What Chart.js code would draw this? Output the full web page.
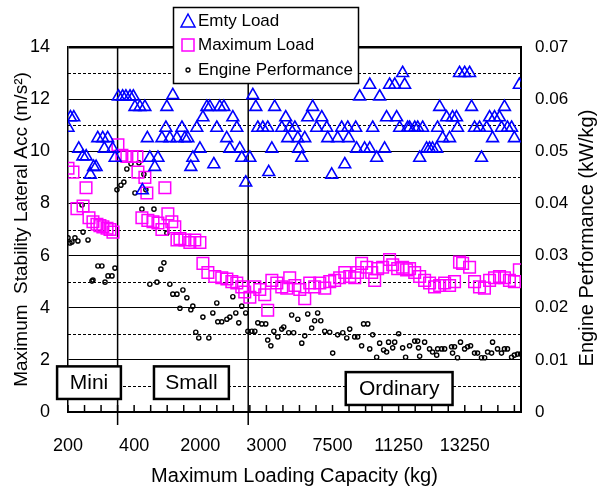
<!DOCTYPE html>
<html>
<head>
<meta charset="utf-8">
<script src="https://cdn.jsdelivr.net/npm/chart.js@4.4.0/dist/chart.umd.min.js"></script>
<style>
  body { margin: 0; background: #fff; }
  #wrap { width: 605px; height: 488px; }
</style>
</head>
<body>
<div id="wrap"><canvas id="chart"></canvas></div>
<script>
// x = sample index (10 per tick mark), tick labels every 40 samples
const capacityLabels = ['200', '400', '2000', '3000', '7500', '11250', '13250'];
const classDividers = [30, 109];
const classNames = ['Mini', 'Small', 'Ordinary'];

// [sample, m/s^2]
const emtyLoad = [
  [0,10.9],[1.5,11.3],[3.5,11.3],[6.5,10.1],[9,9.8],[11,9.8],[13.5,9.1],[15.5,9.4],[17,9.4],[18,10.5],
  [21,10.5],[22,10.1],[24,10.5],[27,10.1],[28.5,9.75],[30.5,12.1],[33,12.1],[35,12.1],[37.5,12.1],[39.5,12.1],
  [40.5,11.7],[43.5,11.7],[45,8.5],[46.5,11.7],[48,10.5],[49.5,9.75],[52.5,9.4],[54.4,9.75],[56.8,10.5],[59.2,10.9],
  [59.8,11.7],[61.6,10.5],[63.4,12.15],[65.9,10.5],[68.9,10.9],[70.7,10.5],[72.5,10.5],[74.3,9.4],[75.5,9.75],[77.9,10.9],
  [79.8,10.1],[81.6,11.3],[84,11.7],[85.8,11.7],[88.2,9.5],[90,10.9],[91.8,11.7],[94.3,11.7],[96,10.5],[97.9,10.1],
  [99.7,11.3],[102.1,10.9],[103.9,10.1],[105.1,9.75],[107.5,8.8],[110,9.75],[111.8,12.15],[113.6,11.7],[114.8,10.9],[117.8,10.9],
  [120.8,10.9],[121.4,9.2],[123.3,10.1],[125,11.7],[129.3,10.9],[131.7,11.3],[132.9,10.5],[134.1,10.9],[137.2,10.9],[139,10.5],
  [139.5,10.1],[141.4,9.75],[143.2,10.5],[145,11.3],[148,11.7],[150.4,10.9],[153.5,11.3],[156.5,10.9],[157.1,10.5],[159.5,9.1],
  [163.1,10.5],[165.5,10.9],[167.4,9.5],[169.2,10.9],[169.8,10.5],[174,10.9],[174.6,10.1],[176.4,12.1],[179.4,10.1],[182.5,10.1],
  [182.5,12.55],[184.3,10.9],[186.7,9.75],[188.5,12.1],[191.5,10.1],[192.7,11.3],[194.5,12.55],[197.6,12.55],[198.8,11.3],[200.6,10.9],
  [202.4,13.0],[203.6,12.55],[205.4,10.9],[206.6,10.9],[209.7,10.9],[211.5,10.9],[212.7,9.75],[214.5,10.9],[216.9,10.1],[218.7,10.1],
  [220.5,10.1],[223,10.1],[223.5,10.9],[224.8,11.7],[226.6,10.5],[229,11.3],[230.8,10.5],[232.6,11.3],[235,11.3],[235.6,10.9],
  [236.8,13.0],[239.9,13.0],[242.9,13.0],[244.1,11.7],[245.9,10.9],[248.9,10.9],[250.1,9.75],[253.2,10.9],[255,11.3],[256.8,10.5],
  [258,11.3],[261,11.3],[262.2,10.9],[264,11.7],[265.8,10.9],[268.3,10.9],[270,10.5],[273,12.55]
];

// [sample, m/s^2]
const maximumLoad = [
  [0,9.35],[3,9.2],[5.4,7.8],[9.1,7.9],[10.9,8.6],[12.7,7.45],[15.1,7.3],[17.5,7.2],[19.3,7.15],[21.1,7.1],
  [23.6,7.05],[25.4,7.0],[27.2,6.9],[30.2,10.25],[32.6,9.85],[35.6,9.8],[38.7,9.8],[41.7,9.8],[42.3,9.2],[44.7,7.45],
  [46.5,9.0],[47.7,8.4],[48.3,7.35],[51.4,7.3],[54.4,7.25],[56.8,7.0],[58.6,8.6],[60.4,7.6],[62.8,7.3],[64.6,7.1],
  [65.9,6.6],[67.7,6.65],[70.7,6.6],[73.7,6.5],[76.7,6.6],[79.8,6.5],[81.6,5.7],[84.6,5.35],[88.8,5.2],[93,5.15],
  [96.1,5.1],[99.1,5.0],[102.1,4.95],[105.1,4.8],[106.9,4.6],[110,4.4],[113,4.8],[116,4.7],[119,4.5],[120.8,3.9],
  [123.3,5.05],[126.3,4.95],[129.3,4.8],[132.3,4.75],[134.1,5.15],[137.2,4.85],[140.2,4.7],[143.2,4.35],[146.2,4.95],[149.2,4.8],
  [152.3,4.95],[155.3,4.75],[158.3,5.0],[161.3,5.05],[164.3,5.15],[167.4,5.35],[170.4,5.2],[173.4,5.15],[175.2,5.35],[177.6,5.7],
  [180.7,5.55],[183.7,5.35],[185.5,5.05],[187.3,5.5],[190.3,5.55],[194.5,5.85],[196.4,5.65],[199.4,5.5],[202.4,5.55],[204.8,5.45],
  [206.6,5.5],[209.7,5.35],[212.7,5.2],[215.7,5.05],[218.7,4.95],[221.7,4.8],[224.8,4.85],[227.8,4.95],[230.8,4.85],[233.8,5.0],
  [236.8,5.75],[238.7,5.7],[242.9,5.55],[245.9,5.0],[248.9,4.8],[251.9,4.75],[255,5.05],[258,5.15],[261,5.2],[264,5.15],
  [267,5.05],[270,5.0],[273,5.45]
];

// [sample, kW/kg]
const enginePerformance = [
  [0,0.0334],[1.2,0.0324],[2.4,0.0326],[4.2,0.0334],[6,0.0328],[8.5,0.0397],[9.1,0.0345],[12.1,0.033],[14.5,0.0251],[15.1,0.0253],
  [18.1,0.028],[20.5,0.028],[22.4,0.0249],[24.2,0.0261],[26.6,0.0261],[28.4,0.0276],[29.6,0.0426],[32,0.0435],[33.8,0.0441],[35.6,0.0466],
  [38.1,0.0476],[40.5,0.042],[42.9,0.0478],[44.7,0.0389],[45.9,0.0456],[47.1,0.0426],[49.5,0.0245],[52,0.0389],[53.8,0.0249],[56.2,0.0274],
  [58,0.0286],[59.8,0.0343],[61.6,0.0245],[63.4,0.0226],[65.9,0.0226],[67.7,0.0199],[69.5,0.0234],[71.9,0.0219],[74.3,0.0196],[75.5,0.0203],
  [77.3,0.0153],[79.1,0.0142],[81.6,0.0182],[85.2,0.0142],[87.6,0.019],[90,0.0209],[90.6,0.0173],[93,0.0173],[96.1,0.0178],[97.9,0.0182],
  [99.7,0.0221],[101.5,0.019],[103.3,0.0171],[105.1,0.0203],[107.5,0.019],[108.8,0.0155],[111.2,0.0155],[113,0.0155],[114.8,0.0171],[117.2,0.0169],
  [119.6,0.0169],[120.8,0.0138],[122.7,0.0127],[124.5,0.0155],[126.9,0.0144],[129.3,0.0159],[130.5,0.0163],[133.5,0.0152],[135.3,0.0186],[136.5,0.0152],
  [139,0.0178],[141.4,0.0132],[143.2,0.0146],[145,0.0188],[147.4,0.0161],[149.2,0.0175],[151,0.019],[152.9,0.0175],[155.3,0.0155],[158.3,0.0153],
  [160.1,0.0113],[163.1,0.0148],[166.2,0.0152],[168.6,0.0142],[170.4,0.0159],[173.4,0.0144],[175.2,0.0144],[177.6,0.0127],[178.8,0.0169],[181.3,0.0169],
  [182.5,0.0121],[184.3,0.0148],[186.7,0.0105],[188.5,0.0132],[190.9,0.0119],[192.7,0.0115],[193.9,0.0134],[196.4,0.0123],[197.6,0.0134],[200,0.015],
  [202.4,0.0123],[204.2,0.0105],[206.6,0.0127],[209.7,0.0136],[211.5,0.0136],[212,0.0123],[212.7,0.0107],[215.7,0.0134],[218.7,0.0121],[220.5,0.0115],
  [223,0.0109],[223.6,0.0121],[226,0.0121],[227.8,0.0121],[232,0.0125],[232.6,0.0113],[233.8,0.0125],[235.6,0.0104],[237.4,0.0134],[239.9,0.0121],
  [241.7,0.0125],[243.5,0.0127],[245.9,0.0113],[247.7,0.0113],[250.1,0.0104],[252,0.0104],[253.8,0.0115],[256.2,0.0113],[256.8,0.0134],[259.8,0.0121],
  [262.2,0.0113],[264,0.0121],[265.8,0.0121],[268.3,0.0105],[270,0.0109],[271.9,0.0111],[273.7,0.0111]
];

const FONT = "'Liberation Sans', Arial, sans-serif";
Chart.defaults.font.family = FONT;
Chart.defaults.color = '#000';

const toPoints = arr => arr.map(p => ({ x: p[0], y: p[1] }));

// dashed half-grid, inner tick marks, class dividers, labels, legend
const extras = {
  id: 'extras',
  beforeDatasetsDraw(chart) {
    const { ctx, chartArea: a, scales: { x, y } } = chart;
    ctx.save();
    ctx.strokeStyle = '#000';
    ctx.lineWidth = 1;
    ctx.setLineDash([3, 2]);
    for (let v = 1; v < 14; v += 2) {
      const py = Math.round(y.getPixelForValue(v)) + 0.5;
      ctx.beginPath(); ctx.moveTo(a.left, py); ctx.lineTo(a.right, py); ctx.stroke();
    }
    ctx.setLineDash([]);
    ctx.lineWidth = 1.5;
    x.ticks.forEach(t => {
      const px = x.getPixelForValue(t.value);
      ctx.beginPath(); ctx.moveTo(px, a.bottom); ctx.lineTo(px, a.bottom - 7); ctx.stroke();
    });
    classDividers.forEach(v => {
      const px = x.getPixelForValue(v);
      ctx.beginPath(); ctx.moveTo(px, a.top); ctx.lineTo(px, a.bottom + 13); ctx.stroke();
    });
    ctx.restore();
  },
  afterDraw(chart) {
    const { ctx, scales: { x, y } } = chart;
    ctx.save();
    // class boxes
    const boxes = [[-6.6, 32, 1.75, 0.5], [52, 97.3, 1.75, 0.5], [168, 232.6, 1.53, 0.27]];
    ctx.font = '21px ' + FONT;
    ctx.textAlign = 'center';
    ctx.textBaseline = 'middle';
    boxes.forEach((b, i) => {
      const x0 = x.getPixelForValue(b[0]), x1 = x.getPixelForValue(b[1]);
      const y0 = y.getPixelForValue(b[2]), y1 = y.getPixelForValue(b[3]);
      ctx.fillStyle = '#fff';
      ctx.fillRect(x0, y0, x1 - x0, y1 - y0);
      ctx.lineWidth = 2.5;
      ctx.strokeStyle = '#000';
      ctx.strokeRect(x0, y0, x1 - x0, y1 - y0);
      ctx.fillStyle = '#000';
      ctx.fillText(classNames[i], (x0 + x1) / 2, (y0 + y1) / 2 + 1);
    });

    // legend
    ctx.fillStyle = '#fff';
    ctx.fillRect(173.5, 7.5, 185, 76);
    ctx.lineWidth = 1.5;
    ctx.strokeRect(173.5, 7.5, 185, 76);
    ctx.strokeStyle = '#0000ff';
    ctx.beginPath();
    ctx.moveTo(188, 14); ctx.lineTo(195, 27); ctx.lineTo(181, 27); ctx.closePath(); ctx.stroke();
    ctx.strokeStyle = '#ff00ff';
    ctx.strokeRect(182, 39, 12, 12);
    ctx.strokeStyle = '#000';
    ctx.lineWidth = 1.3;
    ctx.beginPath(); ctx.arc(188, 70, 2, 0, Math.PI * 2); ctx.stroke();
    ctx.fillStyle = '#000';
    ctx.font = '17px ' + FONT;
    ctx.textAlign = 'left';
    ctx.fillText('Emty Load', 198, 21);
    ctx.fillText('Maximum Load', 198, 45);
    ctx.fillText('Engine Performance', 198, 70);

    // right axis title (reads upward)
    ctx.translate(587, 238);
    ctx.rotate(-Math.PI / 2);
    ctx.font = '20px ' + FONT;
    ctx.textAlign = 'center';
    ctx.fillText('Engine Performance (kW/kg)', 0, 0);
    ctx.restore();
  }
};

new Chart(document.getElementById('chart'), {
  type: 'scatter',
  data: {
    datasets: [
      {
        label: 'Emty Load',
        data: toPoints(emtyLoad),
        yAxisID: 'y',
        pointStyle: 'triangle',
        pointRadius: 6.8,
        borderColor: '#0000ff',
        backgroundColor: 'transparent',
        borderWidth: 1.6
      },
      {
        label: 'Maximum Load',
        data: toPoints(maximumLoad),
        yAxisID: 'y',
        pointStyle: 'rect',
        pointRadius: 8.2,
        borderColor: '#ff00ff',
        backgroundColor: 'transparent',
        borderWidth: 1.5
      },
      {
        label: 'Engine Performance',
        data: toPoints(enginePerformance),
        yAxisID: 'y1',
        pointStyle: 'circle',
        pointRadius: 2.1,
        borderColor: '#000',
        backgroundColor: 'transparent',
        borderWidth: 1.4
      }
    ]
  },
  options: {
    responsive: true,
    maintainAspectRatio: false,
    animation: false,
    layout: { padding: { top: 47, left: 0, right: 0, bottom: 0 } },
    plugins: { legend: { display: false }, tooltip: { enabled: false } },
    scales: {
      x: {
        type: 'linear',
        min: 0,
        max: 274,
        afterFit: s => { s.height = 76; },
        grid: { display: false, drawTicks: false },
        border: { display: true, color: '#000', width: 2 },
        ticks: {
          stepSize: 10,
          autoSkip: false,
          includeBounds: false,
          maxRotation: 0,
          padding: 23,
          font: { size: 18 },
          callback: v => (v % 40 === 0 ? capacityLabels[v / 40] : '')
        },
        title: {
          display: true,
          text: 'Maximum Loading Capacity (kg)',
          font: { size: 20 },
          padding: { top: 0, bottom: 0 }
        }
      },
      y: {
        position: 'left',
        min: 0,
        max: 14,
        afterFit: s => { s.width = 68; },
        border: { display: true, color: '#000', width: 1.5 },
        grid: {
          drawTicks: false,
          color: c => (c.tick && c.tick.value > 0 ? '#000' : 'transparent'),
          lineWidth: c => (c.tick && c.tick.value === 14 ? 2.5 : 1)
        },
        ticks: { stepSize: 2, padding: 18, font: { size: 18 } },
        title: {
          display: true,
          text: 'Maximum  Stability Lateral Acc (m/s\u00b2)',
          font: { size: 19 },
          padding: { top: 10, bottom: 0 }
        }
      },
      y1: {
        position: 'right',
        min: 0,
        max: 0.07,
        afterFit: s => { s.width = 84; },
        border: { display: true, color: '#000', width: 2 },
        grid: { display: false, drawTicks: false },
        ticks: {
          stepSize: 0.01,
          padding: 14,
          font: { size: 17 },
          callback: v => (v === 0 ? '0' : v.toFixed(2))
        }
      }
    }
  },
  plugins: [extras]
});
</script>
</body>
</html>
